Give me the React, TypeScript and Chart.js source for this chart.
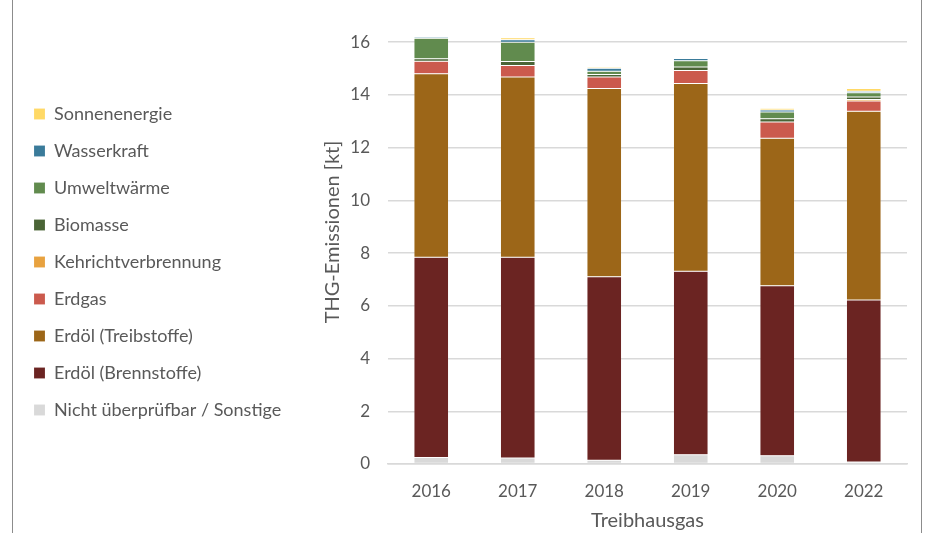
import React, { useEffect, useRef } from "react";
import { Chart, registerables } from "chart.js";

Chart.register(...registerables);

const years = ["2016", "2017", "2018", "2019", "2020", "2022"];
const sonstige = [0.25, 0.23, 0.14, 0.35, 0.31, 0.08];
const brennstoffe = [7.59, 7.61, 6.96, 6.96, 6.45, 6.14];
const treibstoffe = [6.96, 6.84, 7.14, 7.12, 5.6, 7.16];
const erdgas = [0.48, 0.44, 0.44, 0.5, 0.61, 0.39];
const kehricht = [0, 0, 0, 0, 0, 0.06];
const biomasse = [0.09, 0.15, 0.09, 0.13, 0.13, 0.09];
const umweltwaerme = [0.78, 0.73, 0.13, 0.24, 0.25, 0.16];
const wasserkraft = [0.05, 0.09, 0.11, 0.08, 0.08, 0.06];
const sonnenenergie = [0.02, 0.08, 0.05, 0.04, 0.06, 0.1];
const yTicks = [0, 2, 4, 6, 8, 10, 12, 14, 16];

const FONT = "Lato, 'Noto Sans', sans-serif";
const TEXT = "#595959";
const PAD_LEFT = 15;
const LEGEND_W = 270;
const PLOT_LEFT = 388;

const legendWidthPlugin = {
  id: "legendWidth",
  beforeLayout(chart: any) {
    const lg = chart.legend;
    if (lg && !lg._patched) {
      const orig = lg.fit.bind(lg);
      lg.fit = function () {
        orig();
        this.width = LEGEND_W;
        if (this.columnSizes && this.columnSizes[0]) this.columnSizes[0].height += 9;
      };
      lg._patched = true;
    }
  },
};

export default function App() {
  const ref = useRef<HTMLCanvasElement>(null);

  useEffect(() => {
    if (!ref.current) return;
    const mk = (label: string, data: number[], color: string) => ({
      label,
      data,
      backgroundColor: color,
      borderColor: "rgba(255,255,255,0.3)",
      borderWidth: 0.5,
      borderSkipped: false,
    });
    const chart = new Chart(ref.current, {
      type: "bar",
      plugins: [legendWidthPlugin],
      data: {
        labels: years,
        datasets: [
          mk("Nicht überprüfbar / Sonstige", sonstige, "#D9D9D9"),
          mk("Erdöl (Brennstoffe)", brennstoffe, "#6B2422"),
          mk("Erdöl (Treibstoffe)", treibstoffe, "#9C6618"),
          mk("Erdgas", erdgas, "#CB5A4D"),
          mk("Kehrichtverbrennung", kehricht, "#E8A23F"),
          mk("Biomasse", biomasse, "#4A6436"),
          mk("Umweltwärme", umweltwaerme, "#618B4E"),
          mk("Wasserkraft", wasserkraft, "#3A7B9A"),
          mk("Sonnenenergie", sonnenenergie, "#FFD966"),
        ],
      },
      options: {
        animation: false,
        responsive: false,
        maintainAspectRatio: false,
        layout: { padding: { left: PAD_LEFT, top: 0, right: 23, bottom: 0 } },
        datasets: { bar: { barPercentage: 1, categoryPercentage: 0.4 } },
        plugins: {
          tooltip: { enabled: false },
          legend: {
            position: "left",
            reverse: true,
            align: "center",
            labels: {
              boxWidth: 11,
              boxHeight: 11,
              padding: 19,
              color: TEXT,
              font: { family: FONT, size: 18 },
            },
          },
        },
        scales: {
          x: {
            stacked: true,
            grid: { display: false, drawTicks: false },
            border: { display: true, color: "#D9D9D9", width: 1.5 },
            ticks: { color: TEXT, font: { family: FONT, size: 17 }, padding: 17 },
            title: {
              display: true,
              text: "Treibhausgas",
              color: TEXT,
              font: { family: FONT, size: 20 },
              padding: { top: 0, bottom: 0 },
            },
            afterFit: (s: any) => {
              s.height = 69;
              s.paddingLeft = 0;
              s.paddingRight = 0;
            },
          },
          y: {
            stacked: true,
            min: 0,
            max: 17.6,
            afterBuildTicks: (s: any) => {
              s.ticks = yTicks.map((v) => ({ value: v }));
            },
            grid: { color: "#D9D9D9", lineWidth: 1.5, drawTicks: false },
            border: { display: false },
            ticks: {
              color: TEXT,
              font: { family: FONT, size: 17 },
              padding: 18,
              includeBounds: false,
            },
            title: {
              display: true,
              text: "THG-Emissionen [kt]",
              color: TEXT,
              font: { family: FONT, size: 20 },
              padding: { top: 36, bottom: 0 },
            },
            afterFit: (s: any) => {
              s.width = PLOT_LEFT - PAD_LEFT - LEGEND_W;
              s.paddingTop = 0;
              s.paddingBottom = 0;
            },
          },
        },
      },
    });
    return () => chart.destroy();
  }, []);

  return (
    <div style={{ position: "absolute", left: 0, top: 0, width: 930, height: 533, background: "#fff" }}>
      <canvas ref={ref} width={930} height={533} style={{ display: "block" }} />
      <div
        style={{
          position: "absolute",
          left: 12,
          top: 0,
          width: 910,
          height: 533,
          borderLeft: "1px solid #8c8c8c",
          borderRight: "1px solid #8c8c8c",
          boxSizing: "border-box",
          pointerEvents: "none",
        }}
      />
    </div>
  );
}
